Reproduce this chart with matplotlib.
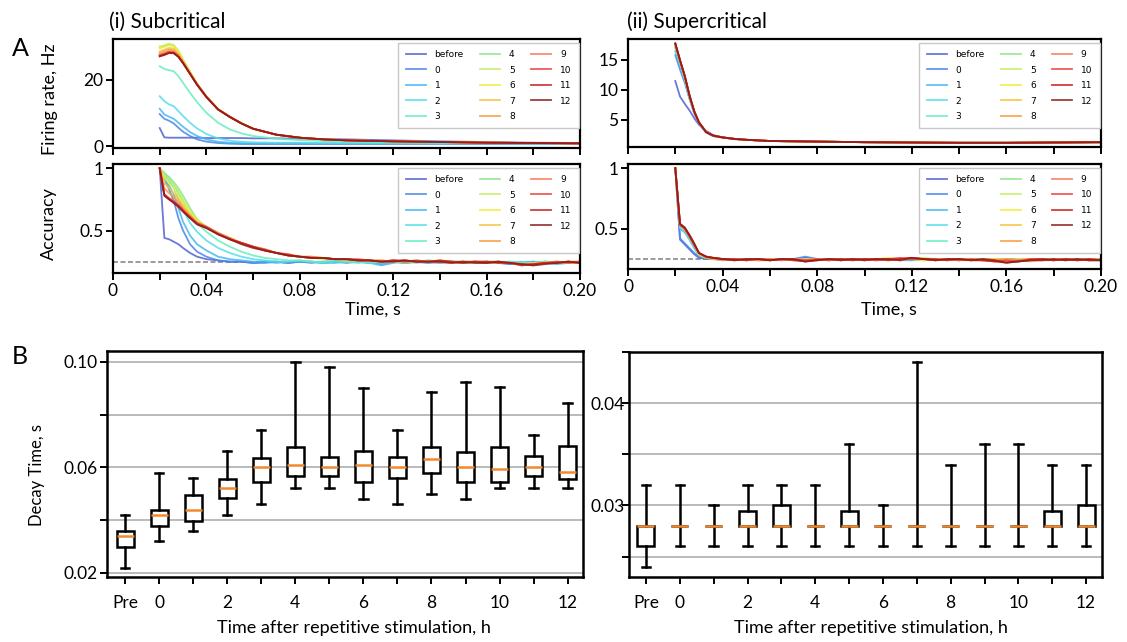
import matplotlib
matplotlib.use('Agg')
import matplotlib.pyplot as plt

plt.rcParams['font.family'] = ['Lato', 'DejaVu Sans']

# ---- data -------------------------------------------------------------
SERIES = ['before', '0', '1', '2', '3', '4', '5', '6', '7', '8', '9', '10', '11', '12']
COLORS = ['#4f62d0', '#4a86e8', '#45b8f0', '#55ddea', '#66eec0', '#8fe68a', '#c2f060',
          '#f2ee3a', '#f8c23a', '#f89a3a', '#f8785a', '#ee4040', '#c81e1e', '#8c1c1c']

# firing rate (Hz) vs time (s)
T_RATE = [0.020, 0.022, 0.024, 0.026, 0.028, 0.030, 0.033, 0.036, 0.040, 0.045, 0.050,
          0.055, 0.060, 0.070, 0.080, 0.090, 0.100, 0.120, 0.140, 0.160, 0.180, 0.200]

RATE_SUB = [
    [5.4, 2.6, 2.5, 2.5, 2.5, 2.5, 2.5, 2.5, 2.4, 2.4, 2.4, 2.4, 2.3, 2.3, 2.2, 2.1, 2.0, 1.7, 1.4, 1.2, 1.0, 0.9],
    [9.6, 8.2, 7.6, 6.8, 5.5, 4.3, 3.0, 2.0, 1.3, 0.9, 0.7, 0.6, 0.6, 0.6, 0.6, 0.6, 0.6, 0.6, 0.6, 0.6, 0.6, 0.6],
    [11.2, 9.5, 8.8, 8.2, 7.0, 5.8, 4.2, 3.0, 2.0, 1.3, 1.0, 0.9, 0.8, 0.8, 0.8, 0.8, 0.8, 0.8, 0.8, 0.8, 0.8, 0.7],
    [15.0, 13.5, 12.5, 12.0, 10.5, 9.0, 7.0, 5.3, 3.6, 2.3, 1.6, 1.3, 1.1, 1.0, 1.0, 0.9, 0.9, 0.9, 0.8, 0.8, 0.8, 0.8],
    [24.0, 23.2, 22.8, 22.5, 21.0, 19.0, 16.0, 13.2, 10.0, 7.0, 5.0, 3.8, 3.0, 2.2, 1.8, 1.5, 1.3, 1.1, 1.0, 0.9, 0.8, 0.8],
    [29.5, 30.0, 30.5, 30.2, 28.5, 26.0, 22.3, 18.8, 14.9, 11.1, 8.8, 6.8, 5.2, 3.4, 2.5, 2.0, 1.7, 1.4, 1.2, 1.0, 0.9, 0.8],
    [30.0, 30.3, 30.8, 30.4, 28.6, 26.0, 22.3, 18.8, 14.9, 11.1, 8.8, 6.8, 5.2, 3.4, 2.5, 2.0, 1.7, 1.4, 1.2, 1.0, 0.9, 0.8],
    [29.5, 29.8, 30.3, 30.0, 28.3, 25.8, 22.2, 18.7, 14.9, 11.1, 8.8, 6.8, 5.2, 3.4, 2.5, 2.0, 1.7, 1.4, 1.2, 1.0, 0.9, 0.8],
    [28.5, 29.0, 29.5, 29.3, 27.8, 25.5, 22.0, 18.6, 14.8, 11.0, 8.8, 6.8, 5.2, 3.4, 2.5, 2.0, 1.7, 1.4, 1.2, 1.0, 0.9, 0.8],
    [28.0, 28.5, 29.0, 28.8, 27.5, 25.3, 21.9, 18.6, 14.8, 11.0, 8.8, 6.8, 5.2, 3.4, 2.5, 2.0, 1.7, 1.4, 1.2, 1.0, 0.9, 0.8],
    [27.5, 27.9, 28.5, 28.3, 27.1, 25.1, 21.8, 18.5, 14.8, 11.0, 8.8, 6.8, 5.2, 3.4, 2.5, 2.0, 1.7, 1.4, 1.2, 1.0, 0.9, 0.8],
    [27.3, 27.8, 28.3, 28.2, 27.0, 25.0, 21.8, 18.5, 14.8, 11.0, 8.8, 6.8, 5.2, 3.4, 2.5, 2.0, 1.7, 1.4, 1.2, 1.0, 0.9, 0.8],
    [27.0, 27.5, 28.0, 28.0, 26.9, 25.0, 21.7, 18.5, 14.8, 11.0, 8.8, 6.8, 5.2, 3.4, 2.5, 2.0, 1.7, 1.4, 1.2, 1.0, 0.9, 0.8],
    [27.0, 27.4, 28.0, 27.9, 26.8, 24.9, 21.7, 18.4, 14.7, 11.0, 8.7, 6.8, 5.2, 3.4, 2.5, 2.0, 1.7, 1.4, 1.2, 1.0, 0.9, 0.8],
]

RATE_SUPER = [
    [11.5, 8.9, 7.7, 6.6, 5.3, 4.2, 3.2, 2.5, 2.1, 1.8, 1.7, 1.6, 1.5, 1.45, 1.4, 1.35, 1.3, 1.25, 1.2, 1.2, 1.25, 1.3],
    [15.8, 13.4, 11.2, 8.5, 6.1, 4.4, 2.9, 2.3, 2.05, 1.85, 1.7, 1.6, 1.5, 1.45, 1.4, 1.35, 1.3, 1.25, 1.2, 1.2, 1.25, 1.3],
    [16.5, 14.0, 11.6, 8.7, 6.2, 4.5, 3.0, 2.4, 2.1, 1.85, 1.7, 1.6, 1.5, 1.45, 1.4, 1.35, 1.3, 1.25, 1.2, 1.2, 1.25, 1.3],
    [17.0, 14.4, 11.9, 8.8, 6.3, 4.5, 3.0, 2.4, 2.1, 1.85, 1.7, 1.6, 1.5, 1.45, 1.4, 1.35, 1.3, 1.25, 1.2, 1.2, 1.25, 1.3],
    [17.2, 14.6, 12.0, 8.9, 6.3, 4.6, 3.0, 2.4, 2.1, 1.85, 1.7, 1.6, 1.5, 1.45, 1.4, 1.35, 1.3, 1.25, 1.2, 1.2, 1.25, 1.3],
    [17.5, 14.8, 12.2, 9.0, 6.4, 4.6, 3.0, 2.4, 2.1, 1.85, 1.7, 1.6, 1.5, 1.45, 1.4, 1.35, 1.3, 1.25, 1.2, 1.2, 1.25, 1.3],
    [17.5, 14.8, 12.2, 9.0, 6.4, 4.6, 3.0, 2.4, 2.1, 1.85, 1.7, 1.6, 1.5, 1.45, 1.4, 1.35, 1.3, 1.25, 1.2, 1.2, 1.25, 1.3],
    [17.6, 14.8, 12.2, 9.0, 6.4, 4.6, 3.0, 2.4, 2.1, 1.85, 1.7, 1.6, 1.5, 1.45, 1.4, 1.35, 1.3, 1.25, 1.2, 1.2, 1.25, 1.3],
    [17.6, 14.8, 12.2, 9.0, 6.4, 4.6, 3.0, 2.4, 2.1, 1.85, 1.7, 1.6, 1.5, 1.45, 1.4, 1.35, 1.3, 1.25, 1.2, 1.2, 1.25, 1.3],
    [17.6, 14.9, 12.2, 9.0, 6.4, 4.6, 3.0, 2.4, 2.1, 1.85, 1.7, 1.6, 1.5, 1.45, 1.4, 1.35, 1.3, 1.25, 1.2, 1.2, 1.25, 1.3],
    [17.7, 14.9, 12.3, 9.1, 6.4, 4.6, 3.0, 2.4, 2.1, 1.85, 1.7, 1.6, 1.5, 1.45, 1.4, 1.35, 1.3, 1.25, 1.2, 1.2, 1.25, 1.3],
    [17.7, 14.9, 12.3, 9.1, 6.4, 4.6, 3.0, 2.4, 2.1, 1.85, 1.7, 1.6, 1.5, 1.45, 1.4, 1.35, 1.3, 1.25, 1.2, 1.2, 1.25, 1.3],
    [17.7, 14.9, 12.3, 9.1, 6.4, 4.6, 3.0, 2.4, 2.1, 1.85, 1.7, 1.6, 1.5, 1.45, 1.4, 1.35, 1.3, 1.25, 1.2, 1.2, 1.25, 1.3],
    [17.8, 15.0, 12.4, 9.1, 6.5, 4.6, 3.0, 2.4, 2.1, 1.85, 1.7, 1.6, 1.5, 1.45, 1.4, 1.35, 1.3, 1.25, 1.2, 1.2, 1.25, 1.3],
]

# decoding accuracy vs time (s)
T_ACC = [0.020, 0.022, 0.024, 0.026, 0.028, 0.030, 0.033, 0.036,
         0.040, 0.045, 0.050, 0.055, 0.060, 0.065, 0.070, 0.075, 0.080, 0.085, 0.090,
         0.095, 0.100, 0.105, 0.110, 0.115, 0.120, 0.125, 0.130, 0.135, 0.140, 0.145,
         0.150, 0.155, 0.160, 0.165, 0.170, 0.175, 0.180, 0.185, 0.190, 0.195, 0.200]

ACC_SUB = [
    [1.00, .44, .43, .41, .39, .36, .32, .29,
     .27, .26, .25, .25, .24, .25, .25, .24, .25, .25, .24,
     .25, .26, .25, .24, .25, .25, .24, .25, .25, .24, .25,
     .25, .24, .25, .24, .23, .24, .25, .24, .24, .25, .24],
    [1.00, .92, .83, .74, .60, .50, .39, .33,
     .29, .26, .25, .25, .24, .24, .25, .24, .25, .24, .25,
     .25, .24, .25, .25, .23, .25, .24, .25, .24, .25, .24,
     .24, .25, .24, .24, .25, .23, .24, .25, .24, .25, .24],
    [1.00, .93, .86, .79, .68, .57, .46, .39,
     .34, .29, .27, .26, .25, .25, .24, .25, .25, .25, .24,
     .24, .25, .25, .24, .22, .24, .25, .25, .24, .25, .25,
     .24, .24, .25, .25, .24, .24, .25, .24, .23, .24, .24],
    [1.00, .95, .90, .84, .76, .67, .56, .49,
     .42, .36, .32, .29, .27, .26, .25, .25, .26, .25, .24,
     .25, .25, .24, .25, .24, .25, .25, .24, .25, .24, .25,
     .25, .24, .24, .25, .24, .25, .24, .25, .24, .24, .25],
    [1.00, .96, .92, .87, .80, .73, .63, .56,
     .49, .42, .37, .33, .30, .28, .27, .26, .26, .25, .25,
     .26, .25, .25, .24, .25, .25, .24, .25, .26, .25, .24,
     .25, .25, .24, .25, .25, .24, .24, .25, .25, .24, .25],
    [1.00, .96, .93, .89, .84, .78, .68, .59,
     .53, .48, .44, .40, .37, .34, .32, .30, .29, .28, .28,
     .27, .27, .26, .26, .25, .26, .25, .25, .26, .25, .25,
     .24, .25, .25, .24, .24, .23, .24, .25, .24, .25, .25],
    [1.00, .94, .91, .87, .82, .75, .66, .58,
     .53, .48, .44, .40, .37, .34, .32, .30, .29, .28, .27,
     .27, .26, .26, .26, .25, .26, .25, .26, .25, .25, .24,
     .25, .25, .24, .24, .24, .23, .24, .24, .25, .24, .24],
    [1.00, .92, .88, .84, .78, .72, .64, .58,
     .53, .48, .44, .40, .37, .35, .32, .31, .29, .28, .28,
     .27, .27, .26, .26, .26, .25, .26, .25, .25, .26, .25,
     .25, .24, .25, .24, .24, .23, .23, .24, .25, .25, .24],
    [1.00, .88, .84, .80, .75, .70, .63, .57,
     .53, .48, .44, .40, .37, .34, .32, .30, .29, .29, .28,
     .27, .27, .26, .26, .25, .25, .25, .26, .25, .25, .24,
     .25, .24, .25, .25, .24, .22, .23, .24, .24, .25, .25],
    [1.00, .84, .80, .77, .73, .68, .62, .56,
     .53, .48, .43, .40, .37, .34, .32, .30, .29, .28, .28,
     .27, .27, .26, .26, .25, .26, .25, .25, .25, .26, .25,
     .24, .25, .25, .24, .24, .23, .23, .24, .25, .24, .25],
    [1.00, .79, .76, .74, .71, .67, .61, .56,
     .53, .48, .44, .40, .37, .34, .32, .30, .29, .29, .28,
     .27, .27, .26, .26, .26, .25, .26, .25, .25, .25, .24,
     .25, .25, .24, .25, .24, .23, .22, .24, .24, .25, .24],
    [1.00, .79, .76, .73, .70, .66, .61, .56,
     .53, .47, .43, .40, .37, .35, .32, .31, .29, .28, .28,
     .27, .27, .27, .26, .25, .26, .25, .26, .25, .25, .25,
     .24, .25, .24, .25, .24, .23, .23, .24, .25, .24, .25],
    [1.00, .78, .75, .73, .70, .66, .60, .55,
     .52, .47, .43, .40, .37, .34, .32, .30, .29, .28, .28,
     .27, .27, .26, .26, .25, .26, .26, .25, .25, .26, .25,
     .24, .25, .25, .24, .24, .22, .23, .24, .24, .25, .24],
    [1.00, .78, .75, .72, .69, .65, .60, .55,
     .52, .47, .43, .39, .36, .34, .32, .30, .29, .28, .28,
     .27, .27, .26, .26, .25, .25, .26, .25, .25, .25, .24,
     .25, .24, .24, .25, .24, .23, .22, .23, .24, .25, .24],
]

ACC_SUPER = [
    [1.00, .41, .37, .33, .29, .26, .25, .25,
     .25, .25, .24, .25, .25, .24, .25, .26, .25, .24, .25,
     .25, .24, .25, .25, .24, .25, .25, .24, .25, .24, .25,
     .25, .24, .25, .24, .24, .25, .25, .24, .25, .24, .25],
    [1.00, .42, .38, .34, .30, .27, .25, .25,
     .25, .24, .25, .25, .24, .25, .25, .27, .25, .25, .24,
     .25, .25, .24, .25, .25, .24, .25, .25, .25, .24, .25,
     .24, .25, .25, .24, .25, .24, .25, .25, .24, .25, .24],
    [1.00, .50, .47, .41, .34, .28, .26, .25,
     .25, .24, .25, .24, .25, .25, .24, .25, .25, .24, .25,
     .25, .24, .25, .25, .24, .24, .25, .25, .24, .25, .25,
     .24, .25, .24, .25, .25, .24, .24, .25, .25, .24, .24],
    [1.00, .51, .48, .42, .35, .28, .26, .25,
     .24, .25, .25, .24, .25, .24, .25, .25, .24, .25, .25,
     .24, .25, .25, .25, .24, .25, .24, .25, .25, .24, .25,
     .25, .24, .24, .25, .24, .25, .25, .24, .25, .25, .24],
    [1.00, .52, .49, .43, .36, .29, .26, .25,
     .25, .25, .24, .25, .25, .25, .24, .25, .25, .24, .25,
     .24, .25, .25, .24, .25, .25, .24, .25, .24, .25, .25,
     .24, .25, .24, .24, .25, .25, .24, .25, .24, .25, .24],
    [1.00, .53, .50, .44, .37, .29, .26, .26,
     .25, .25, .24, .25, .24, .25, .25, .24, .25, .25, .24,
     .25, .25, .24, .25, .25, .25, .24, .25, .25, .24, .25,
     .24, .25, .25, .24, .25, .24, .25, .24, .25, .24, .24],
    [1.00, .53, .50, .44, .37, .29, .26, .26,
     .25, .25, .25, .24, .25, .25, .24, .24, .25, .25, .24,
     .25, .25, .25, .24, .25, .25, .26, .25, .24, .25, .25,
     .24, .24, .25, .24, .25, .25, .24, .25, .24, .25, .25],
    [1.00, .53, .50, .44, .37, .29, .27, .25,
     .25, .24, .25, .25, .24, .25, .25, .24, .25, .24, .25,
     .25, .24, .25, .26, .25, .25, .24, .25, .25, .24, .24,
     .25, .25, .24, .25, .25, .24, .25, .25, .24, .24, .25],
    [1.00, .53, .50, .44, .37, .29, .26, .26,
     .25, .25, .24, .24, .25, .25, .24, .25, .25, .24, .25,
     .24, .25, .25, .24, .25, .26, .25, .25, .24, .25, .25,
     .24, .25, .24, .24, .23, .24, .25, .25, .24, .25, .24],
    [1.00, .53, .50, .44, .37, .30, .26, .25,
     .24, .25, .25, .24, .24, .25, .25, .24, .25, .25, .24,
     .25, .24, .25, .25, .24, .25, .25, .24, .25, .25, .24,
     .24, .24, .25, .24, .24, .25, .25, .24, .25, .24, .24],
    [1.00, .53, .50, .44, .37, .30, .27, .26,
     .25, .25, .24, .25, .25, .24, .25, .23, .25, .25, .24,
     .25, .25, .24, .25, .25, .26, .25, .24, .25, .25, .24,
     .25, .24, .23, .24, .25, .25, .24, .25, .25, .24, .25],
    [1.00, .53, .50, .44, .37, .30, .27, .26,
     .25, .24, .25, .25, .24, .25, .25, .24, .25, .24, .25,
     .25, .25, .24, .25, .26, .25, .25, .24, .25, .24, .25,
     .24, .23, .24, .23, .25, .25, .24, .25, .24, .25, .24],
    [1.00, .54, .51, .44, .37, .30, .27, .26,
     .25, .25, .24, .25, .24, .25, .24, .23, .24, .25, .25,
     .24, .25, .25, .24, .25, .26, .25, .25, .24, .25, .24,
     .24, .23, .22, .23, .24, .25, .24, .25, .24, .25, .24],
    [1.00, .54, .51, .45, .38, .30, .27, .26,
     .25, .24, .25, .25, .24, .25, .25, .23, .24, .25, .24,
     .25, .24, .25, .25, .24, .26, .25, .24, .25, .25, .24,
     .25, .24, .22, .23, .24, .24, .25, .24, .25, .24, .24],
]
CHANCE = 0.25

# decay time box statistics (s)
BOX_LABELS = ['Pre', '0', '1', '2', '3', '4', '5', '6', '7', '8', '9', '10', '11', '12']
SUB_LO = [0.0218, 0.0319, 0.0358, 0.0419, 0.0460, 0.0522, 0.0522, 0.0478, 0.0460, 0.0499, 0.0478, 0.0522, 0.0522, 0.0522]
SUB_Q1 = [0.0296, 0.0377, 0.0397, 0.0484, 0.0544, 0.0566, 0.0566, 0.0544, 0.0561, 0.0580, 0.0545, 0.0545, 0.0566, 0.0554]
SUB_MED = [0.0338, 0.0418, 0.0437, 0.0522, 0.0600, 0.0610, 0.0600, 0.0610, 0.0600, 0.0632, 0.0602, 0.0592, 0.0600, 0.0581]
SUB_Q3 = [0.0358, 0.0437, 0.0494, 0.0556, 0.0637, 0.0676, 0.0640, 0.0660, 0.0640, 0.0678, 0.0657, 0.0678, 0.0642, 0.0682]
SUB_HI = [0.0418, 0.0580, 0.0561, 0.0661, 0.0742, 0.1000, 0.0980, 0.0900, 0.0742, 0.0885, 0.0925, 0.0904, 0.0721, 0.0845]

SUP_LO = [0.024, 0.026, 0.026, 0.026, 0.026, 0.026, 0.026, 0.026, 0.026, 0.026, 0.026, 0.026, 0.026, 0.026]
SUP_Q1 = [0.026, 0.028, 0.028, 0.028, 0.028, 0.028, 0.028, 0.028, 0.028, 0.028, 0.028, 0.028, 0.028, 0.028]
SUP_MED = [0.028, 0.028, 0.028, 0.028, 0.028, 0.028, 0.028, 0.028, 0.028, 0.028, 0.028, 0.028, 0.028, 0.028]
SUP_Q3 = [0.028, 0.028, 0.028, 0.0295, 0.030, 0.028, 0.0295, 0.028, 0.028, 0.028, 0.028, 0.028, 0.0295, 0.030]
SUP_HI = [0.032, 0.032, 0.030, 0.032, 0.032, 0.032, 0.036, 0.030, 0.044, 0.034, 0.036, 0.036, 0.034, 0.034]

# ---- layout helpers ---------------------------------------------------
W, H = 1127, 642
fig = plt.figure(figsize=(W / 100, H / 100), dpi=100)

TICK_FS = 12.5
LABEL_FS = 13


def px_axes(x0, y0, x1, y1):
    return fig.add_axes([x0 / W, 1 - y1 / H, (x1 - x0) / W, (y1 - y0) / H])


def style(ax, lw=1.6):
    for s in ax.spines.values():
        s.set_linewidth(lw)
    ax.tick_params(direction='out', length=5, width=1.4, labelsize=TICK_FS, pad=2)


def draw_lines(ax, t, rows):
    for row, c, name in zip(rows, COLORS, SERIES):
        ax.plot(t, row, color=c, lw=1.3, alpha=0.85, label=name)
    ax.legend(ncol=3, loc='upper right', bbox_to_anchor=(0.997, 0.965), borderaxespad=0,
              prop={'family': 'DejaVu Sans', 'size': 6.5}, handlelength=2.2,
              handletextpad=1.0, columnspacing=1.8, labelspacing=0.72, borderpad=0.8,
              fancybox=False, edgecolor='#c8c8c8', framealpha=1)


def time_axis(ax, labels=True):
    ax.set_xlim(0, 0.20)
    ticks = [0.00, 0.02, 0.04, 0.06, 0.08, 0.10, 0.12, 0.14, 0.16, 0.18, 0.20]
    ax.set_xticks(ticks)
    if labels:
        ax.set_xticklabels(['0', '', '0.04', '', '0.08', '', '0.12', '', '0.16', '', '0.20'])
    else:
        ax.set_xticklabels([])


def draw_boxes(ax, lo, q1, med, q3, hi):
    stats = [dict(whislo=a, q1=b, med=m, q3=c, whishi=d, fliers=[])
             for a, b, m, c, d in zip(lo, q1, med, q3, hi)]
    ax.bxp(stats, positions=range(len(stats)), widths=0.5, patch_artist=True,
           showfliers=False,
           boxprops=dict(facecolor='white', edgecolor='black', linewidth=1.8),
           whiskerprops=dict(color='black', linewidth=1.8),
           capprops=dict(color='black', linewidth=1.8),
           medianprops=dict(color='#f08a30', linewidth=1.8))
    ax.set_xticks(range(len(BOX_LABELS)))
    ax.set_xticklabels([l if i == 0 or i % 2 == 1 else '' for i, l in enumerate(BOX_LABELS)])
    ax.set_axisbelow(True)
    ax.yaxis.grid(True, color='#b4b4b4', lw=1.3)


# ---- A: firing rate and accuracy -------------------------------------
ax1 = px_axes(113, 39, 580, 148)
draw_lines(ax1, T_RATE, RATE_SUB)
time_axis(ax1, labels=False)
ax1.set_ylim(-0.6, 32.2)
ax1.set_yticks([0, 20])
style(ax1)
ax1.set_ylabel('Firing rate, Hz', fontsize=LABEL_FS)
ax1.yaxis.set_label_coords(-0.118, 0.45)

ax2 = px_axes(113, 164, 580, 273)
ax2.axhline(CHANCE, color='#8a8a8a', ls='--', lw=1.2, dashes=(3, 1.5), zorder=1)
draw_lines(ax2, T_ACC, ACC_SUB)
time_axis(ax2)
ax2.set_ylim(0.159, 1.034)
ax2.set_yticks([0.5, 1.0])
ax2.set_yticklabels(['0.5', '1'])
style(ax2)
ax2.set_ylabel('Accuracy', fontsize=LABEL_FS)
ax2.yaxis.set_label_coords(-0.12, 0.45)

ax3 = px_axes(628, 39, 1101, 147)
draw_lines(ax3, T_RATE, RATE_SUPER)
time_axis(ax3, labels=False)
ax3.set_ylim(0.5, 18.5)
ax3.set_yticks([5, 10, 15])
style(ax3)

ax4 = px_axes(628, 164, 1101, 269)
ax4.axhline(CHANCE, color='#8a8a8a', ls='--', lw=1.2, dashes=(3, 1.5), zorder=1)
draw_lines(ax4, T_ACC, ACC_SUPER)
time_axis(ax4)
ax4.set_ylim(0.168, 1.034)
ax4.set_yticks([0.5, 1.0])
ax4.set_yticklabels(['0.5', '1'])
style(ax4)

fig.text(373 / W, 1 - 310 / H, 'Time, s', ha='center', va='center', fontsize=LABEL_FS)
fig.text(889 / W, 1 - 310 / H, 'Time, s', ha='center', va='center', fontsize=LABEL_FS)

# ---- B: decay time boxes ---------------------------------------------
ax5 = px_axes(107, 351, 583, 577)
draw_boxes(ax5, SUB_LO, SUB_Q1, SUB_MED, SUB_Q3, SUB_HI)
ax5.set_xlim(-0.53, 13.45)
ax5.set_ylim(0.0184, 0.1041)
ax5.set_yticks([0.02, 0.04, 0.06, 0.08, 0.10])
ax5.set_yticklabels(['0.02', '', '0.06', '', '0.10'])
style(ax5, lw=1.8)
ax5.tick_params(axis='x', pad=8)
ax5.set_ylabel('Decay Time, s', fontsize=12)
ax5.yaxis.set_label_coords(-0.13, 0.45)

ax6 = px_axes(629, 352, 1102, 577)
draw_boxes(ax6, SUP_LO, SUP_Q1, SUP_MED, SUP_Q3, SUP_HI)
ax6.set_xlim(-0.5, 13.47)
ax6.set_ylim(0.023, 0.045)
ax6.set_yticks([0.025, 0.030, 0.035, 0.040, 0.045])
ax6.set_yticklabels(['', '0.03', '', '0.04', ''])
style(ax6, lw=1.8)
ax6.tick_params(axis='y', pad=-2)
ax6.tick_params(axis='x', pad=8)

fig.text(354 / W, 1 - 628 / H, 'Time after repetitive stimulation, h',
         ha='center', va='center', fontsize=LABEL_FS)
fig.text(871 / W, 1 - 628 / H, 'Time after repetitive stimulation, h',
         ha='center', va='center', fontsize=LABEL_FS)

# ---- panel labels ----------------------------------------------------
fig.text(20 / W, 1 - 49 / H, 'A', ha='center', va='center', fontsize=18)
fig.text(20 / W, 1 - 357 / H, 'B', ha='center', va='center', fontsize=18)
fig.text(109 / W, 1 - 22 / H, '(i) Subcritical', ha='left', va='center', fontsize=15)
fig.text(627 / W, 1 - 22 / H, '(ii) Supercritical', ha='left', va='center', fontsize=15)

fig.savefig('out.png', dpi=100)
